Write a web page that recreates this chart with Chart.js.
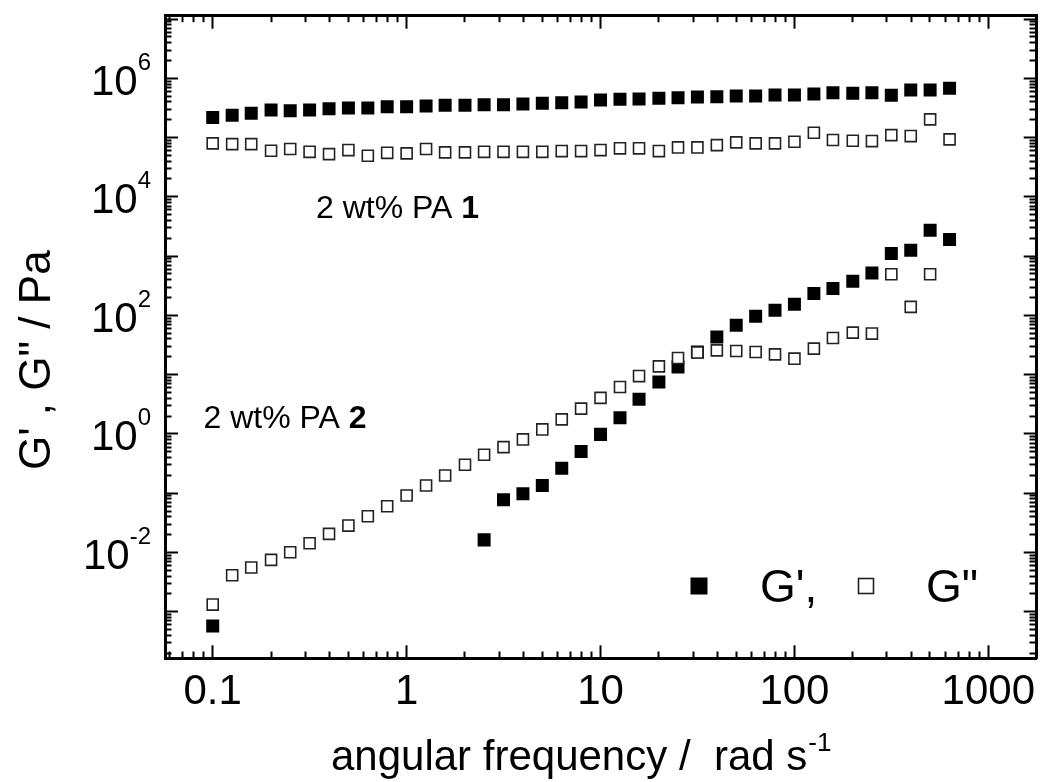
<!DOCTYPE html>
<html><head><meta charset="utf-8">
<script src="https://cdn.jsdelivr.net/npm/chart.js@4.4.1/dist/chart.umd.min.js"></script>
<style>html,body{margin:0;padding:0;background:#fff;}canvas{display:block;}</style>
</head><body>
<canvas id="c" width="1046" height="782"></canvas>
<script>
// ---- data ----
const freqPA1 = [0.1,0.126,0.158,0.2,0.251,0.316,0.398,0.501,0.631,0.794,1,1.26,1.58,2,2.51,3.16,3.98,5.01,6.31,7.94,10,12.6,15.8,20,25.1,31.6,39.8,50.1,63.1,79.4,100,126,158,200,251,316,398,501,631];
const pa1Gp  = [2.19e5,2.37e5,2.56e5,2.92e5,2.84e5,2.92e5,3.06e5,3.15e5,3.15e5,3.31e5,3.31e5,3.40e5,3.50e5,3.50e5,3.58e5,3.58e5,3.68e5,3.78e5,3.87e5,3.98e5,4.30e5,4.42e5,4.47e5,4.59e5,4.70e5,4.83e5,4.89e5,5.02e5,5.02e5,5.22e5,5.22e5,5.43e5,5.71e5,5.58e5,5.71e5,5.16e5,6.34e5,6.34e5,6.78e5];
const pa1Gpp = [7.98e4,7.76e4,7.76e4,5.98e4,6.40e4,5.75e4,5.26e4,6.15e4,4.93e4,5.53e4,5.41e4,6.40e4,5.62e4,5.62e4,5.75e4,5.75e4,5.75e4,5.75e4,5.92e4,5.92e4,6.15e4,6.58e4,6.58e4,5.92e4,6.82e4,6.82e4,7.46e4,8.30e4,7.98e4,7.98e4,8.49e4,1.205e5,9.08e4,8.83e4,8.73e4,1.10e5,1.06e5,2.03e5,9.33e4];
const freqPA2Gp = [0.1,2.51,3.16,3.98,5.01,6.31,7.94,10,12.6,15.8,20,25.1,31.6,39.8,50.1,63.1,79.4,100,126,158,200,251,316,398,501,631];
const pa2Gp  = [5.75e-4,1.63e-2,7.74e-2,9.77e-2,0.135,0.264,0.506,0.982,1.88,3.83,7.50,13.4,24.0,43.2,68.1,96.6,122,154,233,284,377,520,1107,1259,2742,1905];
const freqPA2Gpp = [0.1,0.126,0.158,0.2,0.251,0.316,0.398,0.501,0.631,0.794,1,1.26,1.58,2,2.51,3.16,3.98,5.01,6.31,7.94,10,12.6,15.8,20,25.1,31.6,39.8,50.1,63.1,79.4,100,126,158,200,251,316,398,501];
const pa2Gpp = [1.32e-3,4.12e-3,5.56e-3,7.50e-3,1.01e-2,1.43e-2,2.06e-2,2.84e-2,4.08e-2,6.03e-2,9.14e-2,0.135,0.199,0.302,0.446,0.598,0.807,1.19,1.76,2.67,4.06,6.18,9.46,13.8,19.1,23.6,25.7,25.1,24.1,22.0,18.6,27.5,41.5,51.2,49.3,494,139,494];

const xTickValues = [0.1,1,10,100,1000];
const xTickLabels = ['0.1','1','10','100','1000'];
const yTickValues = [1e6,1e4,1e2,1,1e-2];
const yTickExponents = ['6','4','2','0','-2'];
const xTitle = 'angular frequency /  rad s';
const xTitleExp = '-1';
const yTitle = 'G\' , G" / Pa';
const legendLabels = ['G\',', 'G"'];
const noteTexts = ['2 wt% PA ', '2 wt% PA '];
const noteBold = ['1', '2'];
const noteAnchors = [[0.341, 4400], [0.0897, 1.26]];

// ---- helpers ----
const FONT = '"Liberation Sans", Arial, Helvetica, sans-serif';
Chart.defaults.font.family = FONT;
Chart.defaults.color = '#000';
const X_MIN = 0.05675, X_MAX = 1776, Y_MIN = 1.637e-4, Y_MAX = 1.138e7;
const pts = (xs, ys) => xs.map((x, i) => ({x, y: ys[i]}));
const isDecade = v => Math.abs(Math.log10(v) - Math.round(Math.log10(v))) < 1e-6;
function logTicks(min, max) {
  const out = [];
  for (let e = Math.floor(Math.log10(min)); e <= Math.ceil(Math.log10(max)); e++) {
    for (let m = 1; m <= 9; m++) {
      const v = m * Math.pow(10, e);
      if (v >= min && v <= max) out.push({value: v, major: m === 1});
    }
  }
  return out;
}
// minor ticks shorter via dash (line starts at border for bottom/right, inside for top/left)
const dashOuterStart = c => (c.tick && isDecade(c.tick.value)) ? [] : [8.5, 40];
const dashInnerStart = c => (c.tick && isDecade(c.tick.value)) ? [] : [40, 6.5];
const offInnerStart = c => (c.tick && isDecade(c.tick.value)) ? 0 : 40;
function gridOpts(dash, off) {
  return {display: true, drawOnChartArea: false, drawTicks: true, tickLength: -13,
          tickWidth: 2, tickColor: '#000', tickBorderDash: dash, tickBorderDashOffset: off};
}
const border = {display: true, width: 3, color: '#000'};

const filledStyle = {pointStyle: 'rect', pointRadius: 9.2, pointHoverRadius: 9.2,
  backgroundColor: '#000', borderColor: '#000', pointBorderWidth: 0, showLine: false, order: 1};
const openStyle = {pointStyle: 'rect', pointRadius: 7.8, pointHoverRadius: 7.8,
  backgroundColor: '#fff', borderColor: '#222', pointBorderWidth: 1.6, showLine: false, order: 0};

const deco = {
  id: 'deco',
  afterDraw(chart) {
    const ctx = chart.ctx, xs = chart.scales.x, ys = chart.scales.y;
    ctx.save();
    ctx.fillStyle = '#000';
    ctx.textBaseline = 'alphabetic';
    // y tick labels 10^n
    yTickValues.forEach((v, i) => {
      const py = ys.getPixelForValue(v);
      ctx.textAlign = 'right';
      ctx.font = '24px ' + FONT;
      const e = yTickExponents[i];
      const w = ctx.measureText(e).width;
      ctx.fillText(e, 151, py - 8.5);
      ctx.font = '42px ' + FONT;
      ctx.fillText('10', 151 - w, py + 16.5);
    });
    // x title with superscript
    ctx.textAlign = 'left';
    ctx.font = '42px ' + FONT;
    const tw = ctx.measureText(xTitle).width;
    const tx = 331;
    ctx.fillText(xTitle, tx, 770);
    ctx.font = '26px ' + FONT;
    ctx.fillText(xTitleExp, tx + tw + 1, 751);
    // y title rotated
    ctx.save();
    ctx.translate(50, 470);
    ctx.rotate(-Math.PI / 2);
    ctx.font = '44px ' + FONT;
    ctx.fillText(yTitle, 0, 0);
    ctx.restore();
    // annotations
    noteTexts.forEach((t, i) => {
      const px = xs.getPixelForValue(noteAnchors[i][0]);
      const py = ys.getPixelForValue(noteAnchors[i][1]);
      ctx.font = '32px ' + FONT;
      ctx.fillText(t, px, py);
      const w = ctx.measureText(t).width;
      ctx.font = 'bold 32px ' + FONT;
      ctx.fillText(noteBold[i], px + w, py);
    });
    // legend
    ctx.fillStyle = '#000';
    ctx.fillRect(699 - 8.5, 586 - 8.5, 17, 17);
    ctx.strokeStyle = '#222';
    ctx.lineWidth = 1.6;
    ctx.fillStyle = '#fff';
    ctx.fillRect(866 - 7.5, 586 - 7.5, 15, 15);
    ctx.strokeRect(866 - 7.5, 586 - 7.5, 15, 15);
    ctx.fillStyle = '#000';
    ctx.font = '46px ' + FONT;
    ctx.fillText(legendLabels[0], 760, 602);
    ctx.fillText(legendLabels[1], 926, 602);
    ctx.restore();
  }
};

new Chart(document.getElementById('c'), {
  type: 'scatter',
  data: {
    datasets: [
      Object.assign({label: "PA1 G''", data: pts(freqPA1, pa1Gpp)}, openStyle),
      Object.assign({label: "PA2 G''", data: pts(freqPA2Gpp, pa2Gpp)}, openStyle),
      Object.assign({label: "PA1 G'", data: pts(freqPA1, pa1Gp)}, filledStyle),
      Object.assign({label: "PA2 G'", data: pts(freqPA2Gp, pa2Gp)}, filledStyle)
    ]
  },
  options: {
    responsive: false,
    animation: false,
    devicePixelRatio: 1,
    layout: {autoPadding: false, padding: {left: 0, top: 15.7, right: 9.3, bottom: 0}},
    plugins: {legend: {display: false}, tooltip: {enabled: false}},
    scales: {
      x: {
        type: 'logarithmic', position: 'bottom', min: X_MIN, max: X_MAX,
        afterBuildTicks: s => { s.ticks = logTicks(X_MIN, X_MAX); },
        afterFit: s => { s.height = 123.7; s.paddingLeft = 0; s.paddingRight = 0; },
        ticks: {
          autoSkip: false, maxRotation: 0, minRotation: 0, padding: 22,
          font: {size: 42}, color: '#000',
          callback: v => { const i = xTickValues.findIndex(t => Math.abs(t - v) / t < 1e-6); return i >= 0 ? xTickLabels[i] : ''; }
        },
        grid: gridOpts(dashOuterStart, 0), border
      },
      x2: {
        type: 'logarithmic', position: 'top', min: X_MIN, max: X_MAX,
        afterBuildTicks: s => { s.ticks = logTicks(X_MIN, X_MAX); },
        afterFit: s => { s.height = 0; s.paddingLeft = 0; s.paddingRight = 0; },
        ticks: {display: false, autoSkip: false, maxRotation: 0},
        grid: gridOpts(dashInnerStart, offInnerStart), border
      },
      y: {
        type: 'logarithmic', position: 'left', min: Y_MIN, max: Y_MAX,
        afterBuildTicks: s => { s.ticks = logTicks(Y_MIN, Y_MAX); },
        afterFit: s => { s.width = 165; s.paddingTop = 0; s.paddingBottom = 0; },
        ticks: {display: false, autoSkip: false},
        grid: gridOpts(dashInnerStart, offInnerStart), border
      },
      y2: {
        type: 'logarithmic', position: 'right', min: Y_MIN, max: Y_MAX,
        afterBuildTicks: s => { s.ticks = logTicks(Y_MIN, Y_MAX); },
        afterFit: s => { s.width = 0; s.paddingTop = 0; s.paddingBottom = 0; },
        ticks: {display: false, autoSkip: false},
        grid: gridOpts(dashOuterStart, 0), border
      }
    }
  },
  plugins: [deco]
});
</script>
</body></html>
